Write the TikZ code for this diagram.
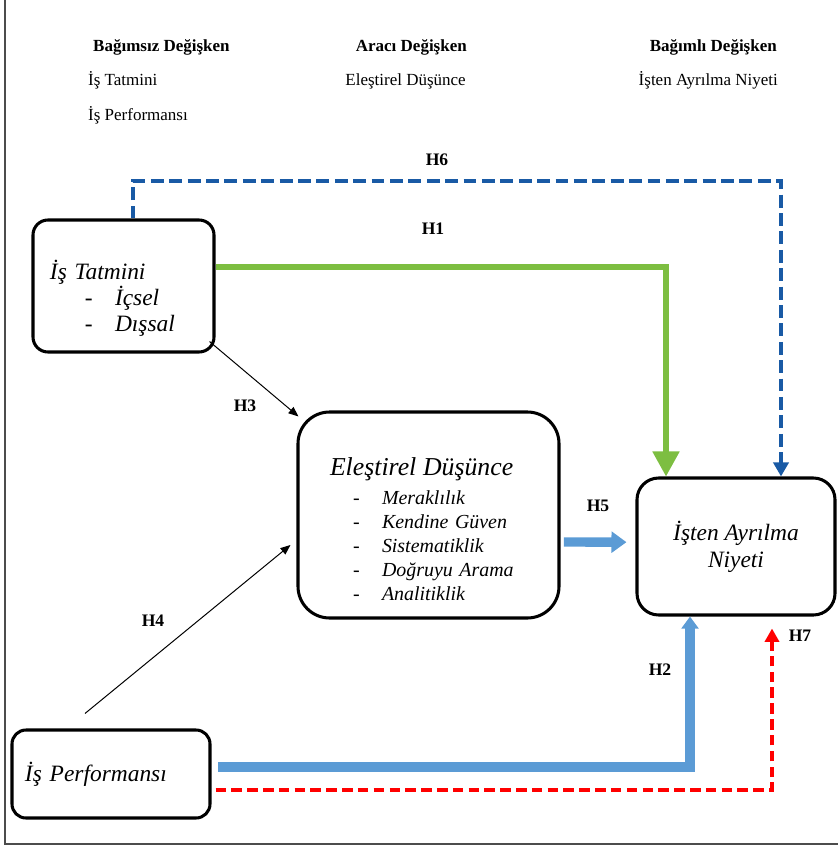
\documentclass[tikz,border=0pt]{standalone}
\usepackage{fontspec}
\setmainfont{Liberation Serif}
\usetikzlibrary{positioning, arrows.meta}

\definecolor{hgreen}{RGB}{125,190,65}
\definecolor{hnavy}{RGB}{25,90,165}
\definecolor{hblue}{RGB}{91,155,213}
\definecolor{hred}{RGB}{255,0,0}

\newcommand{\ditem}[2]{\hspace*{#1}\makebox[#2][l]{\upshape -}}

\tikzset{
  box/.style={draw, line width=2.6pt, rounded corners=#1},
  head/.style={inner sep=0pt, font=\fontsize{14.5}{16}\selectfont},
  hlabel/.style={inner sep=0pt, font=\bfseries\fontsize{15}{17}\selectfont},
  thin arrow/.style={-{Triangle[length=0.3cm,width=0.24cm]}, line width=0.85pt},
}

\begin{document}
\begin{tikzpicture}[x=0.03cm, y=-0.03cm]
\useasboundingbox (0,0) rectangle (838,847);
\draw[black!70, line width=1.2pt] (5,0) -- (5,844) -- (838,844);

% variable list
\node[head, anchor=base west] (hbag) at (93,52) {\bfseries Bağımsız Değişken};
\node[head, anchor=base east] (harac) at (467,52) {\bfseries Aracı Değişken};
\node[head, anchor=base east] (hbagli) at (777,52) {\bfseries Bağımlı Değişken};
\node[head, anchor=base west] (vtatmin) at (88,86) {İş Tatmini};
\node[head, anchor=base east] (velest) at (466,86) {Eleştirel Düşünce};
\node[head, anchor=base east] (vniyet) at (778,86) {İşten Ayrılma Niyeti};
\node[head, anchor=base west] (vperf) at (88,121) {İş Performansı};

% boxes
\node[box=0.45cm, minimum height=3.96cm, text width=4.41cm, inner xsep=0.51cm,
    align=left, font=\itshape\fontsize{20}{22}\selectfont] (tatmin) at (123.5,286)
    {\rule{0pt}{37pt}İş Tatmini\\
     \ditem{1.05cm}{0.9cm}İçsel\\
     \ditem{1.05cm}{0.9cm}Dışsal};
\node[box=0.95cm, minimum height=6.18cm, text width=5.91cm, inner xsep=0.96cm,
    align=left, font=\itshape\fontsize{17}{20.5}\selectfont] (elestirel) at (428.5,515)
    {{\fontsize{22}{24}\selectfont\rule{0pt}{39pt}Eleştirel Düşünce}\\[4pt]
     \ditem{0.69cm}{0.87cm}Meraklılık\\
     \ditem{0.69cm}{0.87cm}Kendine Güven\\
     \ditem{0.69cm}{0.87cm}Sistematiklik\\
     \ditem{0.69cm}{0.87cm}Doğruyu Arama\\
     \ditem{0.69cm}{0.87cm}Analitiklik};
\node[box=0.65cm, minimum width=5.94cm, minimum height=4.11cm,
    align=center, font=\itshape\fontsize{20}{23}\selectfont] (niyet) at (736,546.5)
    {İşten Ayrılma\\ Niyeti};
\node[box=0.42cm, minimum height=2.64cm, text width=5.16cm, inner xsep=0.39cm,
    align=left, font=\itshape\fontsize{20}{22}\selectfont] (perf) at (111,774)
    {İş Performansı};

% hypotheses
\coordinate (h6top) at (450,181);
\draw[hnavy, line width=3.4pt, dash pattern=on 11pt off 4.7pt,
    -{Triangle[width=0.45cm,length=0.42cm]}]
    ([xshift=0.29cm]tatmin.north) |- (h6top) -| ([xshift=1.35cm]niyet.north);
\draw[hgreen, line width=4.3pt, -{Triangle[width=0.78cm,length=0.75cm]}]
    ([yshift=0.57cm]tatmin.east) -| ([xshift=-2.1cm]niyet.north);
\draw[hblue, line width=8pt, -{Triangle[width=0.5cm,length=0.36cm]}]
    ([xshift=0.2cm,yshift=0.21cm]perf.east) -| ([xshift=-1.38cm]niyet.south);
\draw[hred, line width=3.4pt, dash pattern=on 9pt off 4.5pt,
    -{Triangle[width=0.42cm,length=0.4cm]}, shorten >=0.36cm]
    ([xshift=0.12cm,yshift=-0.48cm]perf.east) -| ([xshift=1.08cm]niyet.south);
\draw[hblue, line width=8pt, -{Triangle[width=0.62cm,length=0.45cm]}]
    ([xshift=0.1cm,yshift=-0.81cm]elestirel.east) -- ([xshift=-0.27cm,yshift=0.13cm]niyet.west);
\draw[thin arrow]
    ([xshift=-0.18cm,yshift=0.36cm]tatmin.south east) -- ([xshift=0.06cm,yshift=-0.18cm]elestirel.north west);
\draw[thin arrow]
    ([xshift=-0.78cm,yshift=0.45cm]perf.north) -- ([xshift=-0.18cm,yshift=-0.9cm]elestirel.west);

\node[hlabel] (lh6) at (437,160) {H6};
\node[hlabel] (lh1) at (433,229) {H1};
\node[hlabel] (lh3) at (245,406) {H3};
\node[hlabel] (lh4) at (153,621) {H4};
\node[hlabel] (lh5) at (598,506) {H5};
\node[hlabel] (lh2) at (660,670) {H2};
\node[hlabel] (lh7) at (800,636) {H7};
\end{tikzpicture}
\end{document}
